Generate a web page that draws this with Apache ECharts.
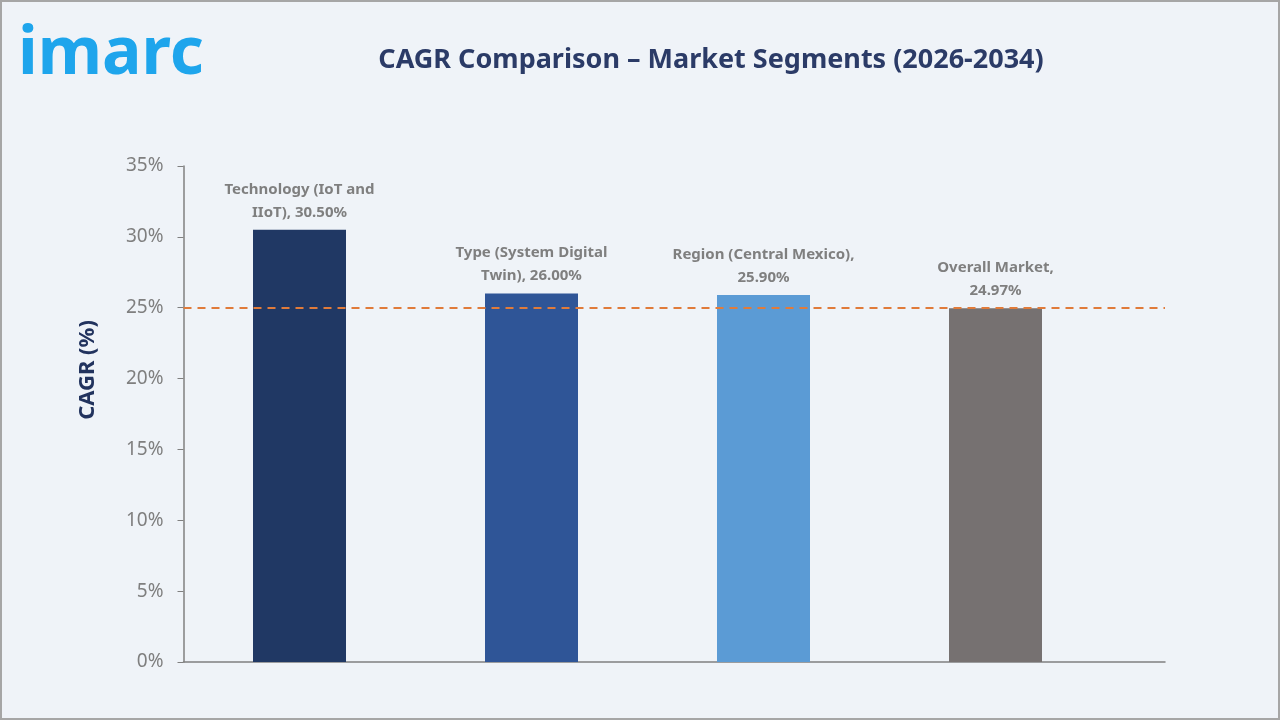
<!DOCTYPE html>
<html>
<head>
<meta charset="utf-8">
<script src="https://cdn.jsdelivr.net/npm/echarts@6/dist/echarts.min.js"></script>
<style>
  html, body { margin: 0; padding: 0; background: #eff3f8; }
  #chart_1 { width: 1280px; height: 720px; }
</style>
</head>
<body>
<div id="chart_1"></div>
<script>
// data
let categories = ['Technology (IoT and IIoT)', 'Type (System Digital Twin)', 'Region (Central Mexico)', 'Overall Market'];
// label text as wrapped in the picture
let labelNames = ['Technology (IoT and\nIIoT), ', 'Type (System Digital\nTwin), ', 'Region (Central Mexico),\n', 'Overall Market,\n'];
let cagrValues = [30.50, 26.00, 25.90, 24.97];
let overallLine = 25;
let yTicks = [0, 35, 5];

let barColors = ['#203864', '#2f5597', '#5b9bd5', '#767171'];

function initChart() {
    let chart = echarts.init(document.getElementById('chart_1'));
    let option = {
        backgroundColor: '#eff3f8',
        animation: false,
        graphic: [
            {
                type: 'rect',
                shape: { x: 1, y: 1, width: 1278, height: 718 },
                style: { fill: 'none', stroke: '#a6a6a6', lineWidth: 2 }
            },
            {
                type: 'text',
                x: 18,
                y: 22,
                style: {
                    text: 'imarc',
                    font: 'bold 66px "Noto Sans"',
                    fill: '#1ea5ec'
                }
            },
            {
                type: 'text',
                x: 711,
                y: 60,
                style: {
                    text: 'CAGR Comparison \u2013 Market Segments (2026-2034)',
                    font: 'bold 27px "Noto Sans"',
                    fill: '#2b3b67',
                    align: 'center',
                    verticalAlign: 'middle'
                }
            },
            {
                type: 'text',
                x: 88,
                y: 370,
                rotation: Math.PI / 2,
                style: {
                    text: 'CAGR (%)',
                    font: 'bold 22px "Noto Sans"',
                    fill: '#22335e',
                    align: 'center',
                    verticalAlign: 'middle'
                }
            }
        ],
        grid: { left: 183.5, right: 115, top: 166, bottom: 58 },
        xAxis: {
            type: 'value',
            min: 0,
            max: 981.5 / 232,
            axisLine: { show: true, lineStyle: { color: '#808080', width: 1.5 } },
            axisTick: { show: false },
            axisLabel: { show: false },
            splitLine: { show: false }
        },
        yAxis: {
            type: 'value',
            min: yTicks[0],
            max: yTicks[1],
            interval: yTicks[2],
            axisLine: { show: true, lineStyle: { color: '#808080', width: 1.5 } },
            axisTick: { show: true, length: 6, lineStyle: { color: '#808080' } },
            axisLabel: {
                formatter: '{value}%',
                color: '#7f7f7f',
                fontFamily: 'Noto Sans',
                fontSize: 19,
                margin: 20
            },
            splitLine: { show: false }
        },
        series: [{
            type: 'bar',
            barWidth: 93,
            data: cagrValues.map((v, i) => ({
                value: [i + 0.5, v],
                itemStyle: { color: barColors[i] }
            })),
            label: {
                show: true,
                position: 'top',
                distance: 6,
                color: '#7f7f7f',
                fontFamily: 'Noto Sans',
                fontWeight: 'bold',
                fontSize: 15,
                lineHeight: 23,
                align: 'center',
                formatter: p => labelNames[p.dataIndex] + cagrValues[p.dataIndex].toFixed(2) + '%'
            },
            markLine: {
                silent: true,
                symbol: 'none',
                label: { show: false },
                lineStyle: { color: '#e07b3a', type: [8, 6], width: 2 },
                data: [{ yAxis: overallLine }]
            }
        }]
    };
    chart.setOption(option);
}
initChart();
</script>
</body>
</html>
